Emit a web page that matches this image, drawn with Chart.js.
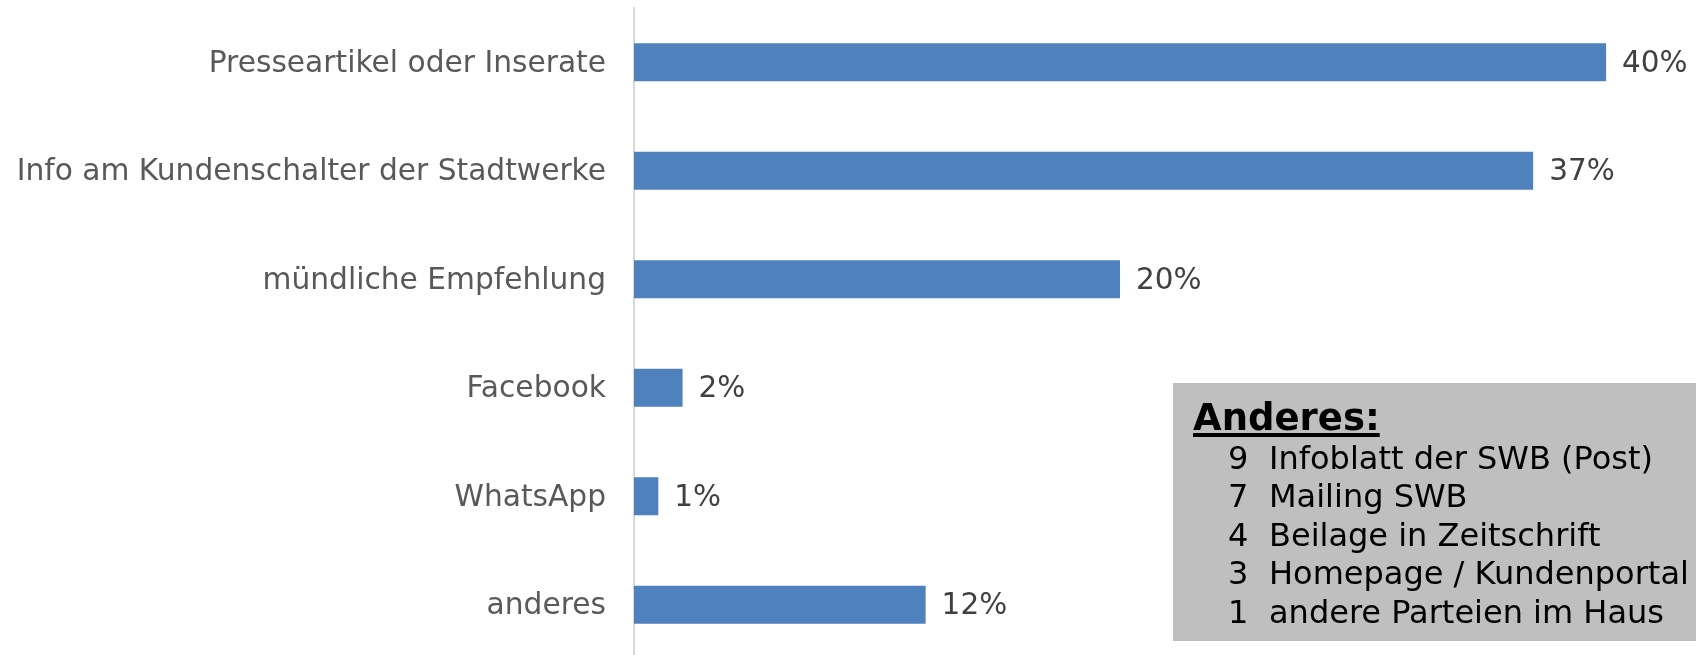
<!DOCTYPE html>
<html>
<head>
<meta charset="utf-8">
<script src="https://cdn.jsdelivr.net/npm/chart.js@4/dist/chart.umd.min.js"></script>
<style>
  html, body { margin: 0; padding: 0; background: #fff; overflow: hidden; }
  /* a few px taller than the window: the last band runs off the bottom like the original */
  #wrap { width: 1696px; height: 659px; position: relative; }
</style>
</head>
<body>
<div id="wrap"><canvas id="infoChart"></canvas></div>
<script>
const categories = [
  'Presseartikel oder Inserate',
  'Info am Kundenschalter der Stadtwerke',
  'mündliche Empfehlung',
  'Facebook',
  'WhatsApp',
  'anderes'
];
const shares = [40, 37, 20, 2, 1, 12];

// "Anderes" breakdown shown in the grey box
const otherCounts = [9, 7, 4, 3, 1];
const otherLabels = [
  'Infoblatt der SWB (Post)',
  'Mailing SWB',
  'Beilage in Zeitschrift',
  'Homepage / Kundenportal',
  'andere Parteien im Haus'
];

const FONT = '"DejaVu Sans", Verdana, sans-serif';

// value labels right of each bar
const valueLabels = {
  id: 'valueLabels',
  afterDatasetsDraw(chart) {
    const ctx = chart.ctx;
    const meta = chart.getDatasetMeta(0);
    ctx.save();
    ctx.font = '29.5px ' + FONT;
    ctx.fillStyle = '#404040';
    ctx.textAlign = 'left';
    ctx.textBaseline = 'middle';
    meta.data.forEach((bar, i) => {
      ctx.fillText(shares[i] + '%', bar.x + 16, bar.y + 2);
    });
    ctx.restore();
  }
};

// grey note box with the "anderes" details
const otherBox = {
  id: 'otherBox',
  afterDraw(chart) {
    const ctx = chart.ctx;
    ctx.save();
    ctx.fillStyle = '#bfbfbf';
    ctx.fillRect(1173, 383, 1696 - 1173, 258);

    ctx.fillStyle = '#000';
    ctx.textAlign = 'left';
    ctx.textBaseline = 'alphabetic';
    ctx.font = 'bold 37px ' + FONT;
    const title = 'Anderes:';
    ctx.fillText(title, 1193, 430);
    const w = ctx.measureText(title).width;
    ctx.fillRect(1193, 433, w, 4);

    ctx.font = '32px ' + FONT;
    otherLabels.forEach((lbl, i) => {
      const y = 469 + i * 38.4;
      ctx.fillText(String(otherCounts[i]), 1228, y);
      ctx.fillText(lbl, 1269, y);
    });
    ctx.restore();
  }
};

new Chart(document.getElementById('infoChart'), {
  type: 'bar',
  data: {
    labels: categories,
    datasets: [{
      data: shares,
      backgroundColor: '#4f81bd',
      borderWidth: 0,
      categoryPercentage: 1,
      barPercentage: 0.35
    }]
  },
  options: {
    indexAxis: 'y',
    responsive: true,
    maintainAspectRatio: false,
    animation: false,
    layout: { padding: { top: 8, right: 0, bottom: 0, left: 0 } },
    plugins: {
      legend: { display: false },
      tooltip: { enabled: false }
    },
    scales: {
      x: {
        display: false,
        min: 0,
        max: 43.7
      },
      y: {
        afterFit(scale) {
          scale.width = 634;
          // labels sit inside their bands, no extra room needed
          scale.paddingTop = 0;
          scale.paddingBottom = 0;
        },
        grid: { display: false, drawTicks: false },
        border: { display: true, color: '#d9d9d9', width: 2 },
        ticks: {
          color: '#595959',
          padding: 28,
          labelOffset: 2,
          font: { family: FONT, size: 29.7 }
        }
      }
    }
  },
  plugins: [valueLabels, otherBox]
});
</script>
</body>
</html>
